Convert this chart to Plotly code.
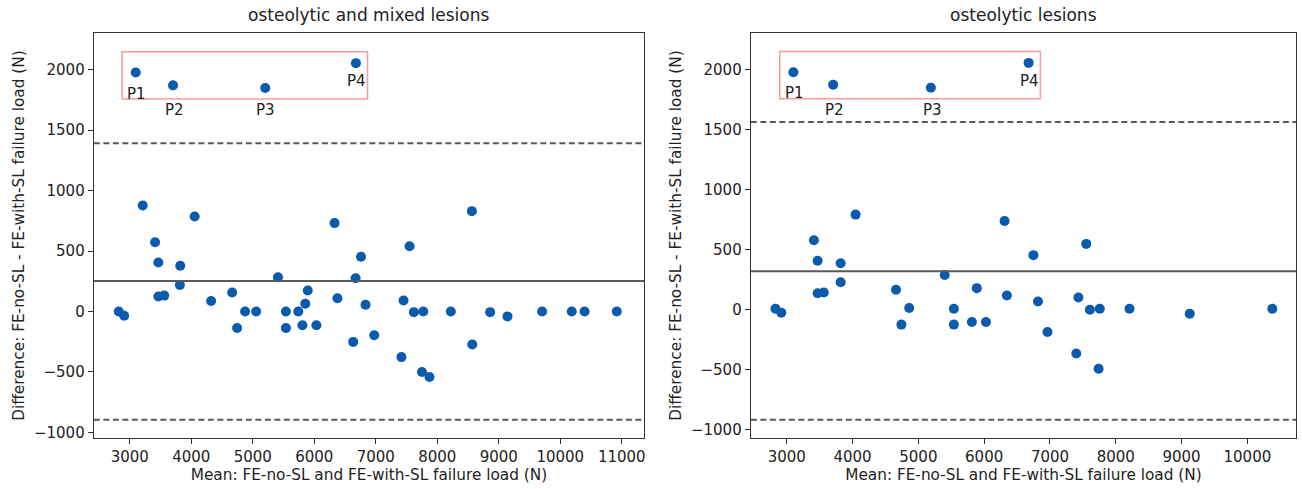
import plotly.graph_objects as go

# ---------------- data ----------------
titles = ["osteolytic and mixed lesions", "osteolytic lesions"]

# Left panel: osteolytic and mixed lesions
left_mean = [3097, 3703, 5203, 6677,
             3211, 3412, 4055, 6330, 7550, 8563,
             3465, 3821, 5410, 6760, 6672, 3815, 3465, 3560,
             4323, 4665, 2821, 2909, 4875, 5055, 4745, 5539, 5539,
             5740, 5807, 5854, 5894, 6035, 6377, 6633, 6834, 6975,
             7452, 7418, 7620, 7773, 7752, 7873, 8221, 8570, 8860,
             9142, 9705, 10187, 10396, 10919]
left_diff = [1977, 1871, 1849, 2055,
             876, 573, 786, 731, 540, 830,
             405, 378, 282, 452, 274, 219, 123, 131,
             87, 156, 0, -36, 0, 0, -137, 0, -137,
             0, -115, 63, 173, -115, 109, -252, 55, -197,
             90, -378, -6, 0, -502, -543, 0, -274, -6,
             -41, 0, 0, 0, 0]
left_bias = 252
left_loa = [-896, 1391]

# Right panel: osteolytic lesions
right_mean = [3100, 3705, 5190, 6675,
              3413, 4046, 6310, 7551,
              3469, 3819, 3819, 3469, 3563, 5400, 6748, 4660,
              2828, 2917, 4861, 4742, 5539, 5539, 5813, 5888, 6027,
              6345, 6818, 6962, 7432, 7400, 7607, 7757, 7739, 8209,
              9124, 10379]
right_diff = [1977, 1873, 1848, 2055,
              576, 790, 737, 546,
              406, 384, 226, 135, 141, 287, 452, 163,
              5, -28, 11, -127, 5, -127, -105, 177, -105,
              116, 66, -188, 99, -368, -3, 5, -495, 5,
              -36, 5]
right_bias = 317
right_loa = [-920, 1563]

point_labels = ["P1", "P2", "P3", "P4"]
# label anchor positions (data coords) for the highlighted points
label_x = [3110, 3720, 5210, 6690]
label_y = [1800, 1665, 1665, 1905]

# highlight box bounds (x0, x1, y0, y1) per panel
left_box = [2875, 6866, 1759, 2150]
right_box = [2894, 6854, 1757, 2151]

x_ranges = [[2416, 11362], [2454, 10739]]
y_ranges = [[-1050, 2306], [-1075, 2306]]
x_ticks = [[3000, 4000, 5000, 6000, 7000, 8000, 9000, 10000, 11000],
           [3000, 4000, 5000, 6000, 7000, 8000, 9000, 10000]]
y_ticks = [-1000, -500, 0, 500, 1000, 1500, 2000]

x_title = "Mean: FE-no-SL and FE-with-SL failure load (N)"
y_title = "Difference: FE-no-SL - FE-with-SL failure load (N)"

# ---------------- figure ----------------
FONT = "DejaVu Sans"
DOT = "#0a5aad"
LINE = "#5a5a5a"
BOX = "#ff9a9a"
TXT = "#222222"

W, H = 1302, 489
x_domains = [[94 / W, 645 / W], [752 / W, 1298 / W]]
y_domain = [(H - 441) / H, (H - 33) / H]

fig = go.Figure()

panels = [
    (left_mean, left_diff, left_bias, left_loa, left_box),
    (right_mean, right_diff, right_bias, right_loa, right_box),
]

for i, (mx, dy, bias, loa, box) in enumerate(panels):
    xa = "x" if i == 0 else "x2"
    ya = "y" if i == 0 else "y2"
    fig.add_trace(go.Scatter(
        x=mx, y=dy, mode="markers", xaxis=xa, yaxis=ya,
        marker=dict(color=DOT, size=10, line=dict(width=0)),
        showlegend=False, hoverinfo="x+y"))
    # bias line
    fig.add_shape(type="line", xref=f"{xa} domain", yref=ya,
                  x0=0, x1=1, y0=bias, y1=bias,
                  line=dict(color=LINE, width=2))
    for v in loa:
        fig.add_shape(type="line", xref=f"{xa} domain", yref=ya,
                      x0=0, x1=1, y0=v, y1=v,
                      line=dict(color=LINE, width=2, dash="6px,3.5px"))
    fig.add_shape(type="rect", xref=xa, yref=ya,
                  x0=box[0], x1=box[1], y0=box[2], y1=box[3],
                  line=dict(color=BOX, width=1.5), fillcolor="rgba(0,0,0,0)")
    for lbl, lx, ly in zip(point_labels, label_x, label_y):
        fig.add_annotation(x=lx, y=ly, xref=xa, yref=ya, text=lbl,
                           showarrow=False, xanchor="center", yanchor="middle",
                           font=dict(family=FONT, size=15, color=TXT))
    # panel title
    fig.add_annotation(x=0.5, y=1, xref=f"{xa} domain", yref="paper",
                       text=titles[i], showarrow=False,
                       xanchor="center", yanchor="top", yshift=-3,
                       font=dict(family=FONT, size=17, color=TXT))

axis_common = dict(
    showgrid=False, zeroline=False, showline=True, mirror=True,
    linecolor="#333", linewidth=1.3, ticks="outside", ticklen=5,
    tickwidth=1.2, tickcolor="#333",
    tickfont=dict(family=FONT, size=15, color=TXT),
)

for i in range(2):
    sx = "" if i == 0 else "2"
    fig.update_layout(**{
        f"xaxis{sx}": dict(
            axis_common, domain=x_domains[i], range=x_ranges[i],
            tickvals=x_ticks[i], ticktext=[str(t) for t in x_ticks[i]],
            anchor="y" if i == 0 else "y2",
            title=dict(text=x_title, standoff=2,
                       font=dict(family=FONT, size=15.3, color=TXT))),
        f"yaxis{sx}": dict(
            axis_common, domain=y_domain, range=y_ranges[i],
            tickvals=y_ticks,
            anchor="x" if i == 0 else "x2",
            title=dict(text=y_title, standoff=5,
                       font=dict(family=FONT, size=15.3, color=TXT))),
    })

fig.update_layout(
    width=W, height=H,
    margin=dict(l=0, r=0, t=0, b=0),
    paper_bgcolor="white", plot_bgcolor="white",
    font=dict(family=FONT, color=TXT),
)

fig.write_html("out.html")
